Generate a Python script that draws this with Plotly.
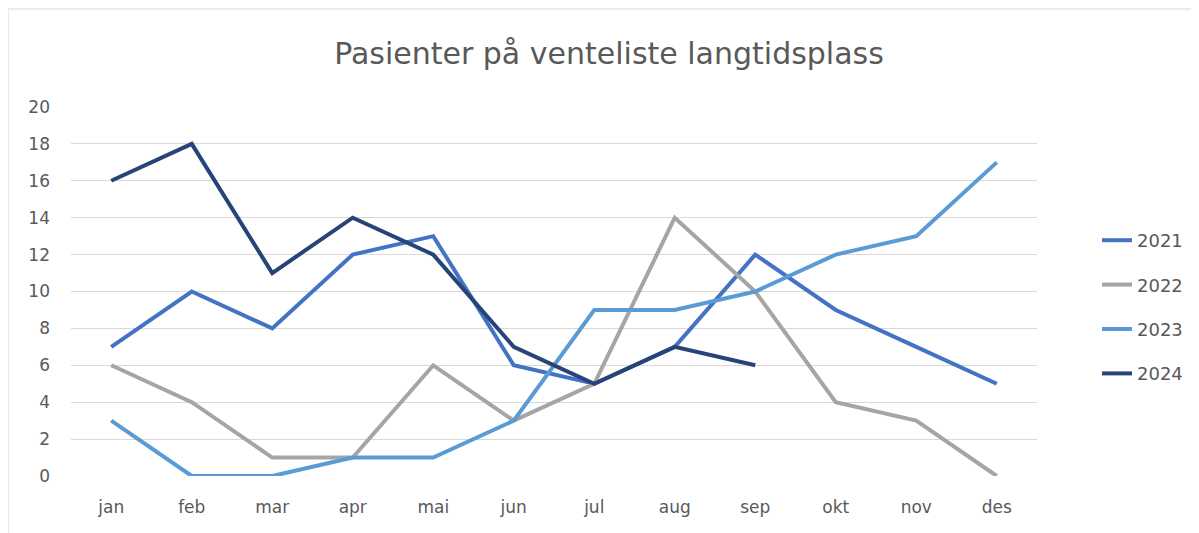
import plotly.graph_objects as go

months = ["jan", "feb", "mar", "apr", "mai", "jun", "jul", "aug", "sep", "okt", "nov", "des"]
y2021 = [7, 10, 8, 12, 13, 6, 5, 7, 12, 9, 7, 5]
y2022 = [6, 4, 1, 1, 6, 3, 5, 14, 10, 4, 3, 0]
y2023 = [3, 0, 0, 1, 1, 3, 9, 9, 10, 12, 13, 17]
y2024 = [16, 18, 11, 14, 12, 7, 5, 7, 6]
series = [("2021", y2021, "#4472C4"), ("2022", y2022, "#A5A5A5"),
          ("2023", y2023, "#5B9BD5"), ("2024", y2024, "#264478")]
yticks = [0, 2, 4, 6, 8, 10, 12, 14, 16, 18, 20]

OFF = 8  # page body margin
W, H = 1199 - OFF, 533 - OFF
L, T = 71 - OFF, 107 - OFF
R = W - (1038 - OFF)
B = H - (476 - OFF)
pw, ph = W - L - R, H - T - B


def px(x):
    return (x - OFF - L) / pw


def py(y):
    return (476 - y) / ph


fig = go.Figure()
for name, vals, col in series:
    fig.add_trace(go.Scatter(x=months[:len(vals)], y=vals, name=name, mode="lines",
                             line=dict(color=col, width=4), legendgroup=name))

fig.update_layout(
    width=W, height=H,
    margin=dict(l=L, r=R, t=T, b=B),
    paper_bgcolor="white", plot_bgcolor="white",
    font=dict(family="DejaVu Sans, sans-serif", color="#595959", size=16),
    title=dict(text="Pasienter på venteliste langtidsplass", x=(609 - OFF) / W, xanchor="center",
               y=1 - (53 - OFF) / H, yanchor="middle", font=dict(size=30, color="#595959")),
    xaxis=dict(type="category", categoryorder="array", categoryarray=months,
               range=[-0.5, 11.5], showgrid=False, zeroline=False, showline=False,
               ticks="", tickfont=dict(size=17, color="#595959"), ticklabelstandoff=19),
    yaxis=dict(range=[0, 20], tickvals=yticks, showgrid=True, gridcolor="#d9d9d9",
               gridwidth=1, zeroline=False, showline=False, ticks="",
               tickfont=dict(size=17, color="#595959"), ticklabelstandoff=20),
    legend=dict(x=px(1097), xanchor="left", y=py(222), yanchor="top",
                font=dict(size=18, color="#595959"), tracegroupgap=18,
                bgcolor="rgba(0,0,0,0)"),
    showlegend=True,
)
fig.add_shape(type="rect", xref="paper", yref="paper",
              x0=px(8), x1=px(1260), y0=py(560), y1=py(9),
              line=dict(color="#d9d9d9", width=1), fillcolor="rgba(0,0,0,0)", layer="below")
fig.write_html("out.html")
